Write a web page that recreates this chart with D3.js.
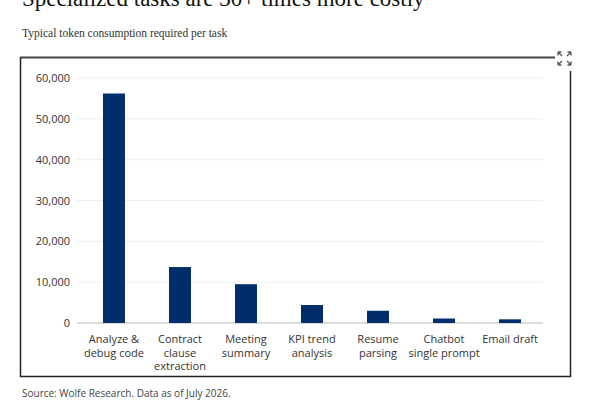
<!DOCTYPE html>
<html><head><meta charset="utf-8">
<script src="https://cdn.jsdelivr.net/npm/d3@7"></script>
<style>body{margin:0;background:#fff}svg{display:block}</style>
</head><body>
<svg id="c" width="600" height="400"></svg>
<script>
const categories = [["Analyze &","debug code"],["Contract","clause","extraction"],["Meeting","summary"],["KPI trend","analysis"],["Resume","parsing"],["Chatbot","single prompt"],["Email draft"]];
const values = [56200, 13700, 9500, 4400, 3000, 1100, 900];
const yTicks = [0,10000,20000,30000,40000,50000,60000];

const svg = d3.select("#c");
const serif = "'Liberation Serif', 'DejaVu Serif', serif";
const sans = "'Open Sans', 'Noto Sans', sans-serif";

svg.append("text").attr("x",22).attr("y",6).attr("font-family",serif).attr("font-size",23).attr("fill","#111").text("Specialized tasks are 30+ times more costly");
svg.append("text").attr("x",22).attr("y",37).attr("font-family",serif).attr("font-size",11.5).attr("fill","#333").text("Typical token consumption required per task");

// frame
svg.append("line").attr("x1",20).attr("x2",555).attr("y1",57.5).attr("y2",57.5).attr("stroke","#444").attr("stroke-width",2);
svg.append("line").attr("x1",20.5).attr("x2",20.5).attr("y1",57).attr("y2",377).attr("stroke","#222").attr("stroke-width",1.5);
svg.append("line").attr("x1",20).attr("x2",571).attr("y1",376.5).attr("y2",376.5).attr("stroke","#222").attr("stroke-width",1.5);
svg.append("line").attr("x1",570.5).attr("x2",570.5).attr("y1",71).attr("y2",377).attr("stroke","#222").attr("stroke-width",1.5);
// expand icon
const ic = svg.append("g").attr("stroke","#555").attr("stroke-width",1.3).attr("fill","none");
[[558,52,1,1],[571,52,-1,1],[558,65,1,-1],[571,65,-1,-1]].forEach(([x,y,dx,dy])=>{
  ic.append("path").attr("d",`M${x},${y} l${4*dx},${4*dy} M${x},${y} l${3.5*dx},0 M${x},${y} l0,${3.5*dy}`);
});

const x = d3.scaleBand().domain(d3.range(values.length)).range([81,543]).paddingInner(0.667).paddingOuter(0.333);
const y = d3.scaleLinear().domain([0,60000]).range([323,78]);

const grid = svg.append("g");
yTicks.forEach(t=>{
  grid.append("line").attr("x1",77).attr("x2",543).attr("y1",y(t)).attr("y2",y(t)).attr("stroke",t===0?"#bbb":"#eee").attr("stroke-width",1);
  grid.append("text").attr("x",70).attr("y",y(t)+4).attr("text-anchor","end").attr("font-family",sans).attr("font-size",11).attr("fill","#333").text(d3.format(",")(t));
});

svg.append("g").selectAll("rect").data(values).join("rect")
  .attr("x",(d,i)=>x(i)).attr("width",x.bandwidth())
  .attr("y",d=>y(d)).attr("height",d=>y(0)-y(d)).attr("fill","#002d6b");

categories.forEach((lines,i)=>{
  const t = svg.append("text").attr("x",x(i)+x.bandwidth()/2).attr("text-anchor","middle").attr("font-family",sans).attr("font-size",11).attr("fill","#333");
  lines.forEach((l,j)=>t.append("tspan").attr("x",x(i)+x.bandwidth()/2).attr("y",343+j*13.5).text(l));
});

svg.append("text").attr("x",22).attr("y",397).attr("font-family",sans).attr("font-size",10).attr("fill","#444").text("Source: Wolfe Research. Data as of July 2026.");
</script>
</body></html>
